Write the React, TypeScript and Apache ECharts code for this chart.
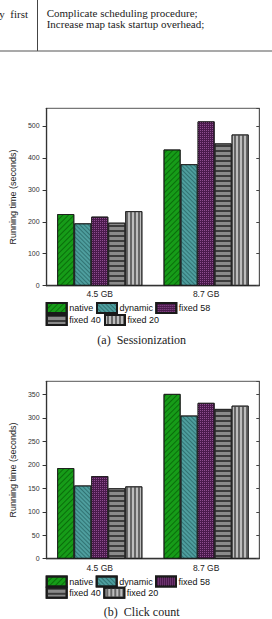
import React, { useEffect, useRef } from 'react';
import * as echarts from 'echarts';

const categories = ['4.5 GB', '8.7 GB'];
const seriesNames = ['native', 'dynamic', 'fixed 58', 'fixed 40', 'fixed 20'];

const sessionNative = [224, 426];
const sessionDynamic = [195, 380];
const sessionFixed58 = [216, 514];
const sessionFixed40 = [197, 445];
const sessionFixed20 = [233, 473];

const clickNative = [193, 351];
const clickDynamic = [156, 305];
const clickFixed58 = [176, 332];
const clickFixed40 = [150, 319];
const clickFixed20 = [154, 326];

const sessionAxis = { max: 555, interval: 100 };
const clickAxis = { max: 378, interval: 50 };

const yTitle = 'Running time (seconds)';
const captionA = '(a)\u00a0 Sessionization';
const captionB = '(b)\u00a0 Click count';
const tableLeft = 'y\u00a0 first';
const tableLines = ['Complicate scheduling procedure;', 'Increase map task startup overhead;'];

const sans = 'Liberation Sans, Arial, sans-serif';
const serif = 'Liberation Serif, Times New Roman, serif';

const barStyles = [
  { color: '#169c18', decal: { symbol: 'rect', symbolSize: 1, dashArrayX: [1, 0], dashArrayY: [1, 2.6], rotation: -Math.PI / 4, color: 'rgba(0,70,0,0.55)' } },
  { color: '#4e9e9e', decal: { symbol: 'rect', symbolSize: 1, dashArrayX: [1, 0], dashArrayY: [1, 1.8], rotation: Math.PI / 4, color: 'rgba(25,80,80,0.55)' } },
  { color: '#4a1a4c', decal: { symbol: 'rect', symbolSize: 1, dashArrayX: [1, 1], dashArrayY: [1, 1], rotation: 0, color: '#8e4e90' } },
  { color: '#8a8a8a', decal: { symbol: 'rect', symbolSize: 1, dashArrayX: [1, 0], dashArrayY: [1.4, 2.8], rotation: 0, color: '#3c3c3c' } },
  { color: '#bdbdbd', decal: { symbol: 'rect', symbolSize: 1, dashArrayX: [1, 0], dashArrayY: [1.2, 1.8], rotation: Math.PI / 2, color: '#666666' } },
];

const gridBoxes = [
  { left: 40.7, top: 108.3, width: 218.6, height: 177.4 },
  { left: 40.7, top: 381.3, width: 218.6, height: 177.4 },
];

const legendPos = [
  [
    { left: 45.7, top: 302 }, { left: 96, top: 302 }, { left: 155.3, top: 302 },
    { left: 45.7, top: 314 }, { left: 104, top: 314 },
  ],
  [
    { left: 45.7, top: 575.5 }, { left: 95.7, top: 575.5 }, { left: 155, top: 575.5 },
    { left: 45.7, top: 586.8 }, { left: 103.3, top: 586.8 },
  ],
];

export default function App() {
  const ref = useRef<HTMLDivElement>(null);
  useEffect(() => {
    if (!ref.current) return;
    const chart = echarts.init(ref.current, undefined, { renderer: 'svg' });
    const seriesData = [
      [sessionNative, sessionDynamic, sessionFixed58, sessionFixed40, sessionFixed20],
      [clickNative, clickDynamic, clickFixed58, clickFixed40, clickFixed20],
    ];
    const axesCfg = [sessionAxis, clickAxis];

    const grid = gridBoxes.map((g) => ({ ...g, show: true, borderColor: '#555', borderWidth: 1, backgroundColor: 'transparent' }));
    const xAxis = [0, 1].map((i) => ({
      gridIndex: i,
      type: 'category',
      data: categories,
      axisLine: { show: true, lineStyle: { color: '#333', width: 1.3 } },
      axisTick: { show: false },
      axisLabel: { margin: i === 0 ? 3.5 : 4.5, fontSize: 8.5, color: '#222', fontFamily: sans },
    }));
    const yAxis: any[] = [];
    [0, 1].forEach((i) => {
      const a = axesCfg[i];
      yAxis.push({
        gridIndex: i,
        type: 'value',
        min: 0,
        max: a.max,
        interval: a.interval,
        name: yTitle,
        nameLocation: 'middle',
        nameGap: 23,
        nameTextStyle: { fontSize: 9, color: '#222', fontFamily: sans },
        axisLine: { show: true, lineStyle: { color: '#333', width: 1.3 } },
        axisTick: { show: true, inside: false, length: 4, lineStyle: { color: '#333' } },
        axisLabel: {
          margin: 7, fontSize: 7, color: '#333', fontFamily: sans, showMaxLabel: false,
          formatter: (v: number) => (v % a.interval === 0 ? String(v) : ''),
        },
        splitLine: { show: false },
      });
      yAxis.push({
        gridIndex: i,
        type: 'value',
        position: 'right',
        min: 0,
        max: a.max,
        interval: a.interval,
        axisLine: { show: true, lineStyle: { color: '#555', width: 1 } },
        axisTick: { show: true, inside: true, length: 3, lineStyle: { color: '#444' } },
        axisLabel: { show: false },
        splitLine: { show: false },
      });
    });

    const series: any[] = [];
    [0, 1].forEach((i) => {
      seriesNames.forEach((name, k) => {
        series.push({
          type: 'bar',
          name,
          xAxisIndex: i,
          yAxisIndex: i * 2,
          data: seriesData[i][k],
          barGap: '0%',
          barCategoryGap: '20%',
          itemStyle: { ...barStyles[k], borderColor: '#1a1a1a', borderWidth: 0.8 },
        });
      });
    });

    const legend: any[] = [];
    [0, 1].forEach((i) => {
      seriesNames.forEach((name, k) => {
        legend.push({
          data: [name],
          left: legendPos[i][k].left,
          top: legendPos[i][k].top,
          padding: 0,
          itemWidth: 20,
          itemHeight: 10,
          selectedMode: false,
          icon: 'rect',
          textStyle: { fontSize: 9, color: '#111', fontFamily: sans, padding: [0, 0, 0, -2.5] },
        });
      });
    });

    const graphic: any[] = [
      { type: 'line', shape: { x1: 37.5, y1: 0, x2: 37.5, y2: 51 }, style: { stroke: '#444', lineWidth: 1 } },
      { type: 'line', shape: { x1: 0, y1: 51, x2: 272, y2: 51 }, style: { stroke: '#555', lineWidth: 1.2 } },
      { type: 'text', x: 28, y: 14, style: { text: tableLeft, fill: '#222', font: `11px ${serif}`, align: 'right', verticalAlign: 'middle' } },
      { type: 'text', x: 46.7, y: 13, style: { text: tableLines[0], fill: '#222', font: `11px ${serif}`, align: 'left', verticalAlign: 'middle' } },
      { type: 'text', x: 46.7, y: 24.4, style: { text: tableLines[1], fill: '#222', font: `11px ${serif}`, align: 'left', verticalAlign: 'middle' } },
      { type: 'text', x: 141.7, y: 340, style: { text: captionA, fill: '#222', font: `12px ${serif}`, align: 'center', verticalAlign: 'middle' } },
      { type: 'text', x: 141.7, y: 611.7, style: { text: captionB, fill: '#222', font: `12px ${serif}`, align: 'center', verticalAlign: 'middle' } },
    ];

    chart.setOption({
      animation: false,
      backgroundColor: '#ffffff',
      aria: { enabled: false },
      grid,
      xAxis,
      yAxis,
      series,
      legend,
      graphic,
    });
    return () => chart.dispose();
  }, []);
  return <div ref={ref} style={{ position: 'absolute', left: 0, top: 0, width: 272, height: 619 }} />;
}
